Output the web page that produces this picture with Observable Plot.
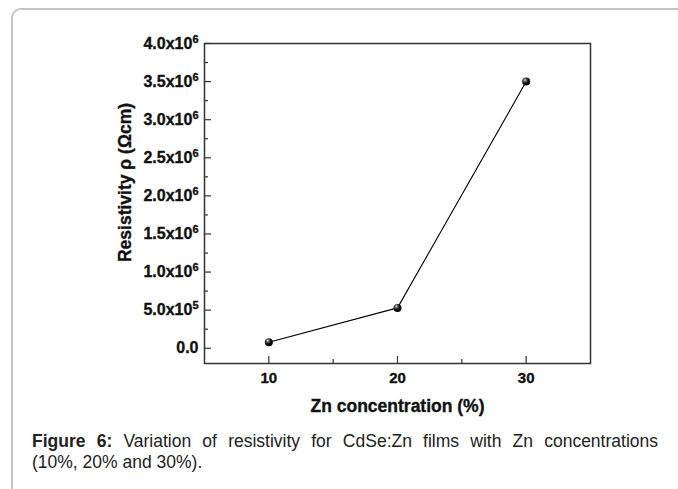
<!DOCTYPE html>
<html>
<head>
<meta charset="utf-8">
<script src="https://cdn.jsdelivr.net/npm/d3@7"></script>
<script src="https://cdn.jsdelivr.net/npm/@observablehq/plot@0.6"></script>
<style>
  html, body { margin: 0; padding: 0; background: #fff; }
  #page { position: relative; width: 678px; height: 489px; overflow: hidden; font-family: "Liberation Sans", Arial, sans-serif; }
  #chart { position: absolute; left: 0; top: 0; }
  #box {
    position: absolute; left: 11px; top: 8px; width: 720px; height: 520px;
    border-left: 2px solid #c4c4c4; border-top: 2px solid #c4c4c4;
    border-top-left-radius: 10px; pointer-events: none;
  }
  #caption { position: absolute; left: 32px; top: 431px; width: 626px; font-size: 17.5px; line-height: 21px; color: #222; }
  #caption .l1 { white-space: nowrap; text-align: justify; text-align-last: justify; transform-origin: 0 50%; }
  #caption b { font-weight: bold; }
</style>
</head>
<body>
<div id="page">
  <div id="chart"></div>
  <div id="box"></div>
  <div id="caption">
    <div class="l1"><b>Figure 6:</b> Variation of resistivity for CdSe:Zn films with Zn concentrations</div>
    <div>(10%, 20% and 30%).</div>
  </div>
</div>
<script>
// Zn concentration (%) and measured resistivity (Ω·cm)
const zn = [10, 20, 30];
const resistivity = [8.0e4, 5.3e5, 3.5e6];

// axis ticks
const xTicks = [10, 20, 30];
const xMinorTicks = [15, 25];
const yTicks = [0, 0.5e6, 1.0e6, 1.5e6, 2.0e6, 2.5e6, 3.0e6, 3.5e6, 4.0e6];
const yMinorTicks = [0.25e6, 0.75e6, 1.25e6, 1.75e6, 2.25e6, 2.75e6, 3.25e6, 3.75e6];

const xLabel = "Zn concentration (%)";
const yLabel = "Resistivity ρ (Ωcm)";

const data = zn.map((z, i) => ({zn: z, rho: resistivity[i]}));

const W = 678, H = 425;
const mL = 204, mR = 88, mT = 43, mB = 62;
const plotW = W - mL - mR, plotH = H - mT - mB;

// "a.bx10^e" labels; superscript applied after render
function sciFormat(d) {
  if (d === 0) return "0.0";
  const e = Math.floor(Math.log10(d) + 1e-9);
  const m = d / Math.pow(10, e);
  return m.toFixed(1) + "x10^" + e;
}

const chart = Plot.plot({
  width: W,
  height: H,
  marginLeft: mL,
  marginRight: mR,
  marginTop: mT,
  marginBottom: mB,
  style: {
    fontFamily: "'Liberation Sans', Arial, sans-serif",
    fontWeight: "bold",
    color: "#111",
    background: "none"
  },
  x: {domain: [5, 35]},
  y: {domain: [-0.2e6, 4.0e6]},
  marks: [
    // inward ticks
    Plot.ruleX(xTicks, {insetTop: plotH - 7, stroke: "#333", strokeWidth: 1.2}),
    Plot.ruleX(xMinorTicks, {insetTop: plotH - 4, stroke: "#333", strokeWidth: 1.2}),
    Plot.ruleY(yTicks, {insetRight: plotW - 7, stroke: "#333", strokeWidth: 1.2}),
    Plot.ruleY(yMinorTicks, {insetRight: plotW - 4, stroke: "#333", strokeWidth: 1.2}),
    Plot.frame({stroke: "#333", strokeWidth: 1.5}),
    Plot.axisX({ticks: xTicks, tickSize: 0, tickPadding: 9, fontSize: 15, label: null, tickFormat: d => String(d)}),
    Plot.axisY({ticks: yTicks, tickSize: 0, tickPadding: 6, fontSize: 16, label: null, tickFormat: sciFormat}),
    Plot.text([xLabel], {text: d => d, frameAnchor: "bottom", textAnchor: "middle", lineAnchor: "middle", dy: 43, fontSize: 17.5, fontWeight: "bold"}),
    Plot.text([yLabel], {text: d => d, frameAnchor: "left", textAnchor: "middle", lineAnchor: "middle", rotate: -90, dx: -79, dy: -21, fontSize: 17.5, fontWeight: "bold"}),
    Plot.line(data, {x: "zn", y: "rho", stroke: "#000", strokeWidth: 1.1}),
    Plot.dot(data, {x: "zn", y: "rho", r: 4, fill: "url(#ball)", stroke: "none"})
  ]
});

// shaded sphere marker gradient
const svg = d3.select(chart);
const grad = svg.insert("defs", ":first-child")
  .append("radialGradient")
  .attr("id", "ball")
  .attr("cx", 0.38).attr("cy", 0.35).attr("r", 0.65)
  .attr("fx", 0.35).attr("fy", 0.3);
grad.append("stop").attr("offset", "0%").attr("stop-color", "#f0f0f0");
grad.append("stop").attr("offset", "25%").attr("stop-color", "#666");
grad.append("stop").attr("offset", "60%").attr("stop-color", "#111");
grad.append("stop").attr("offset", "100%").attr("stop-color", "#000");

// heavier tick labels and axis titles
svg.selectAll('g[aria-label="x-axis tick label"], g[aria-label="y-axis tick label"]')
  .attr("stroke", "currentColor").attr("stroke-width", 0.35);
svg.selectAll("text")
  .filter(function() { return this.textContent === xLabel || this.textContent === yLabel; })
  .attr("stroke", "currentColor").attr("stroke-width", 0.35);

// turn "x10^e" into a raised exponent
svg.selectAll('g[aria-label="y-axis tick label"] text').each(function() {
  const t = this.textContent;
  const i = t.indexOf("^");
  if (i < 0) return;
  const sel = d3.select(this);
  sel.text(t.slice(0, i));
  sel.append("tspan").attr("dy", "-6").attr("font-size", 11).text(t.slice(i + 1));
});

document.getElementById("chart").appendChild(chart);

// fit the first caption line to the caption width
const line1 = document.querySelector("#caption .l1");
const box = document.getElementById("caption").clientWidth;
const probe = document.createElement("span");
probe.innerHTML = line1.innerHTML;
probe.style.whiteSpace = "nowrap";
probe.style.visibility = "hidden";
probe.style.position = "absolute";
document.getElementById("caption").appendChild(probe);
const natural = probe.getBoundingClientRect().width;
probe.remove();
if (natural > box) {
  line1.style.width = natural + "px";
  line1.style.transform = `scaleX(${box / natural})`;
}
</script>
</body>
</html>
